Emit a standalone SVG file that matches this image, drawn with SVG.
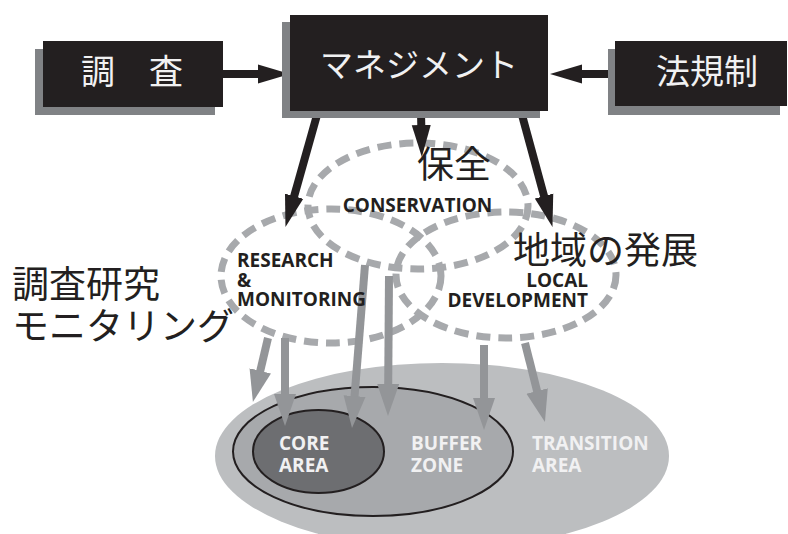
<svg xmlns="http://www.w3.org/2000/svg" width="788" height="534" viewBox="0 0 788 534">
<style>
.shadow{fill:#808285}
.box{fill:#231f20}
.btxt{fill:#f1f1f2;font-family:"Noto Sans CJK JP","Noto Sans",sans-serif;text-anchor:middle}
.jp{fill:#231f20;font-family:"Noto Sans CJK JP","Noto Sans",sans-serif;font-size:37px}
.en{fill:#231f20;font-family:"Open Sans","Liberation Sans",sans-serif;font-weight:700;font-size:19px}
.wen{fill:#f1f1f2;font-family:"Open Sans","Liberation Sans",sans-serif;font-weight:700;font-size:19px}
.dash{fill:none;stroke:#a7a9ac;stroke-width:7;stroke-dasharray:14 8}
.barrow{fill:none;stroke:#231f20;stroke-width:8;marker-end:url(#hb)}
.garrow{fill:none;stroke:#939598;stroke-width:8;marker-end:url(#hg)}
</style>
<defs>
<marker id="hb" markerUnits="userSpaceOnUse" markerWidth="32" markerHeight="20" viewBox="0 0 32 20" refX="2" refY="10" orient="auto"><path d="M0,0.5 L32,10 L0,19.5 z" fill="#231f20"/></marker>
<marker id="hg" markerUnits="userSpaceOnUse" markerWidth="32" markerHeight="24" viewBox="0 0 32 24" refX="2" refY="12" orient="auto"><path d="M0,1 L32,12 L0,23 z" fill="#939598"/></marker>
</defs>

<g id="zones">
<ellipse id="transition" cx="442" cy="456" rx="227" ry="93" fill="#bcbec0"/>
<ellipse id="buffer" cx="373" cy="451.5" rx="140" ry="64.5" fill="#a7a9ac" stroke="#231f20" stroke-width="2"/>
<ellipse id="core" cx="318.5" cy="451.5" rx="65.5" ry="41.5" fill="#6d6e71" stroke="#231f20" stroke-width="2"/>
</g>

<g id="functions">
<ellipse id="conservation" class="dash" cx="418" cy="206" rx="110" ry="63"/>
<ellipse id="research" class="dash" cx="331" cy="276" rx="110" ry="67"/>
<ellipse id="local" class="dash" cx="506" cy="275" rx="110" ry="63"/>
</g>

<g id="connectors">
<path class="garrow" d="M268,338 L259.8,372.8"/>
<path class="garrow" d="M285,338 L285,396"/>
<path class="garrow" d="M365,265 L354.4,398.1"/>
<path class="garrow" d="M389,276 L388.2,386"/>
<path class="garrow" d="M484,345 L484,400"/>
<path class="garrow" d="M525,343 L537.6,392.9"/>
<path class="barrow" d="M223,74 L260,74"/>
<path class="barrow" d="M615,74 L580,74"/>
<path class="barrow" d="M317,115 L293.6,198.1"/>
<path class="barrow" d="M421,111 L421.3,127"/>
<path class="barrow" d="M522,115 L544.6,198"/>
</g>

<g id="survey">
<rect class="shadow" x="35" y="49" width="180" height="66"/>
<rect class="box" x="43" y="41" width="180" height="66"/>
<text class="btxt" x="132" y="84" font-size="34">調　査</text>
</g>
<g id="management">
<rect class="shadow" x="282" y="22" width="258" height="96"/>
<rect class="box" x="290" y="15" width="258" height="96"/>
<text class="btxt" x="419" y="77" font-size="33">マネジメント</text>
</g>
<g id="law">
<rect class="shadow" x="608" y="49" width="172" height="66"/>
<rect class="box" x="615" y="41" width="172" height="65"/>
<text class="btxt" x="707" y="84" font-size="34">法規制</text>
</g>

<g id="labels">
<text class="jp" x="454" y="178" text-anchor="middle">保全</text>
<text class="en" x="417.5" y="212" text-anchor="middle">CONSERVATION</text>
<text class="en" x="237" y="267">RESEARCH</text>
<text class="en" x="237" y="287">&amp;</text>
<text class="en" x="237" y="306">MONITORING</text>
<text class="jp" x="605.5" y="264" text-anchor="middle">地域の発展</text>
<text class="en" x="588" y="287" text-anchor="end">LOCAL</text>
<text class="en" x="588" y="307" text-anchor="end">DEVELOPMENT</text>
<text class="jp" x="12" y="298">調査研究</text>
<text class="jp" x="12" y="340">モニタリング</text>
<text class="wen" x="279" y="450">CORE</text>
<text class="wen" x="279" y="472">AREA</text>
<text class="wen" x="411" y="450">BUFFER</text>
<text class="wen" x="411" y="472">ZONE</text>
<text class="wen" x="532" y="450">TRANSITION</text>
<text class="wen" x="532" y="472">AREA</text>
</g>
</svg>
